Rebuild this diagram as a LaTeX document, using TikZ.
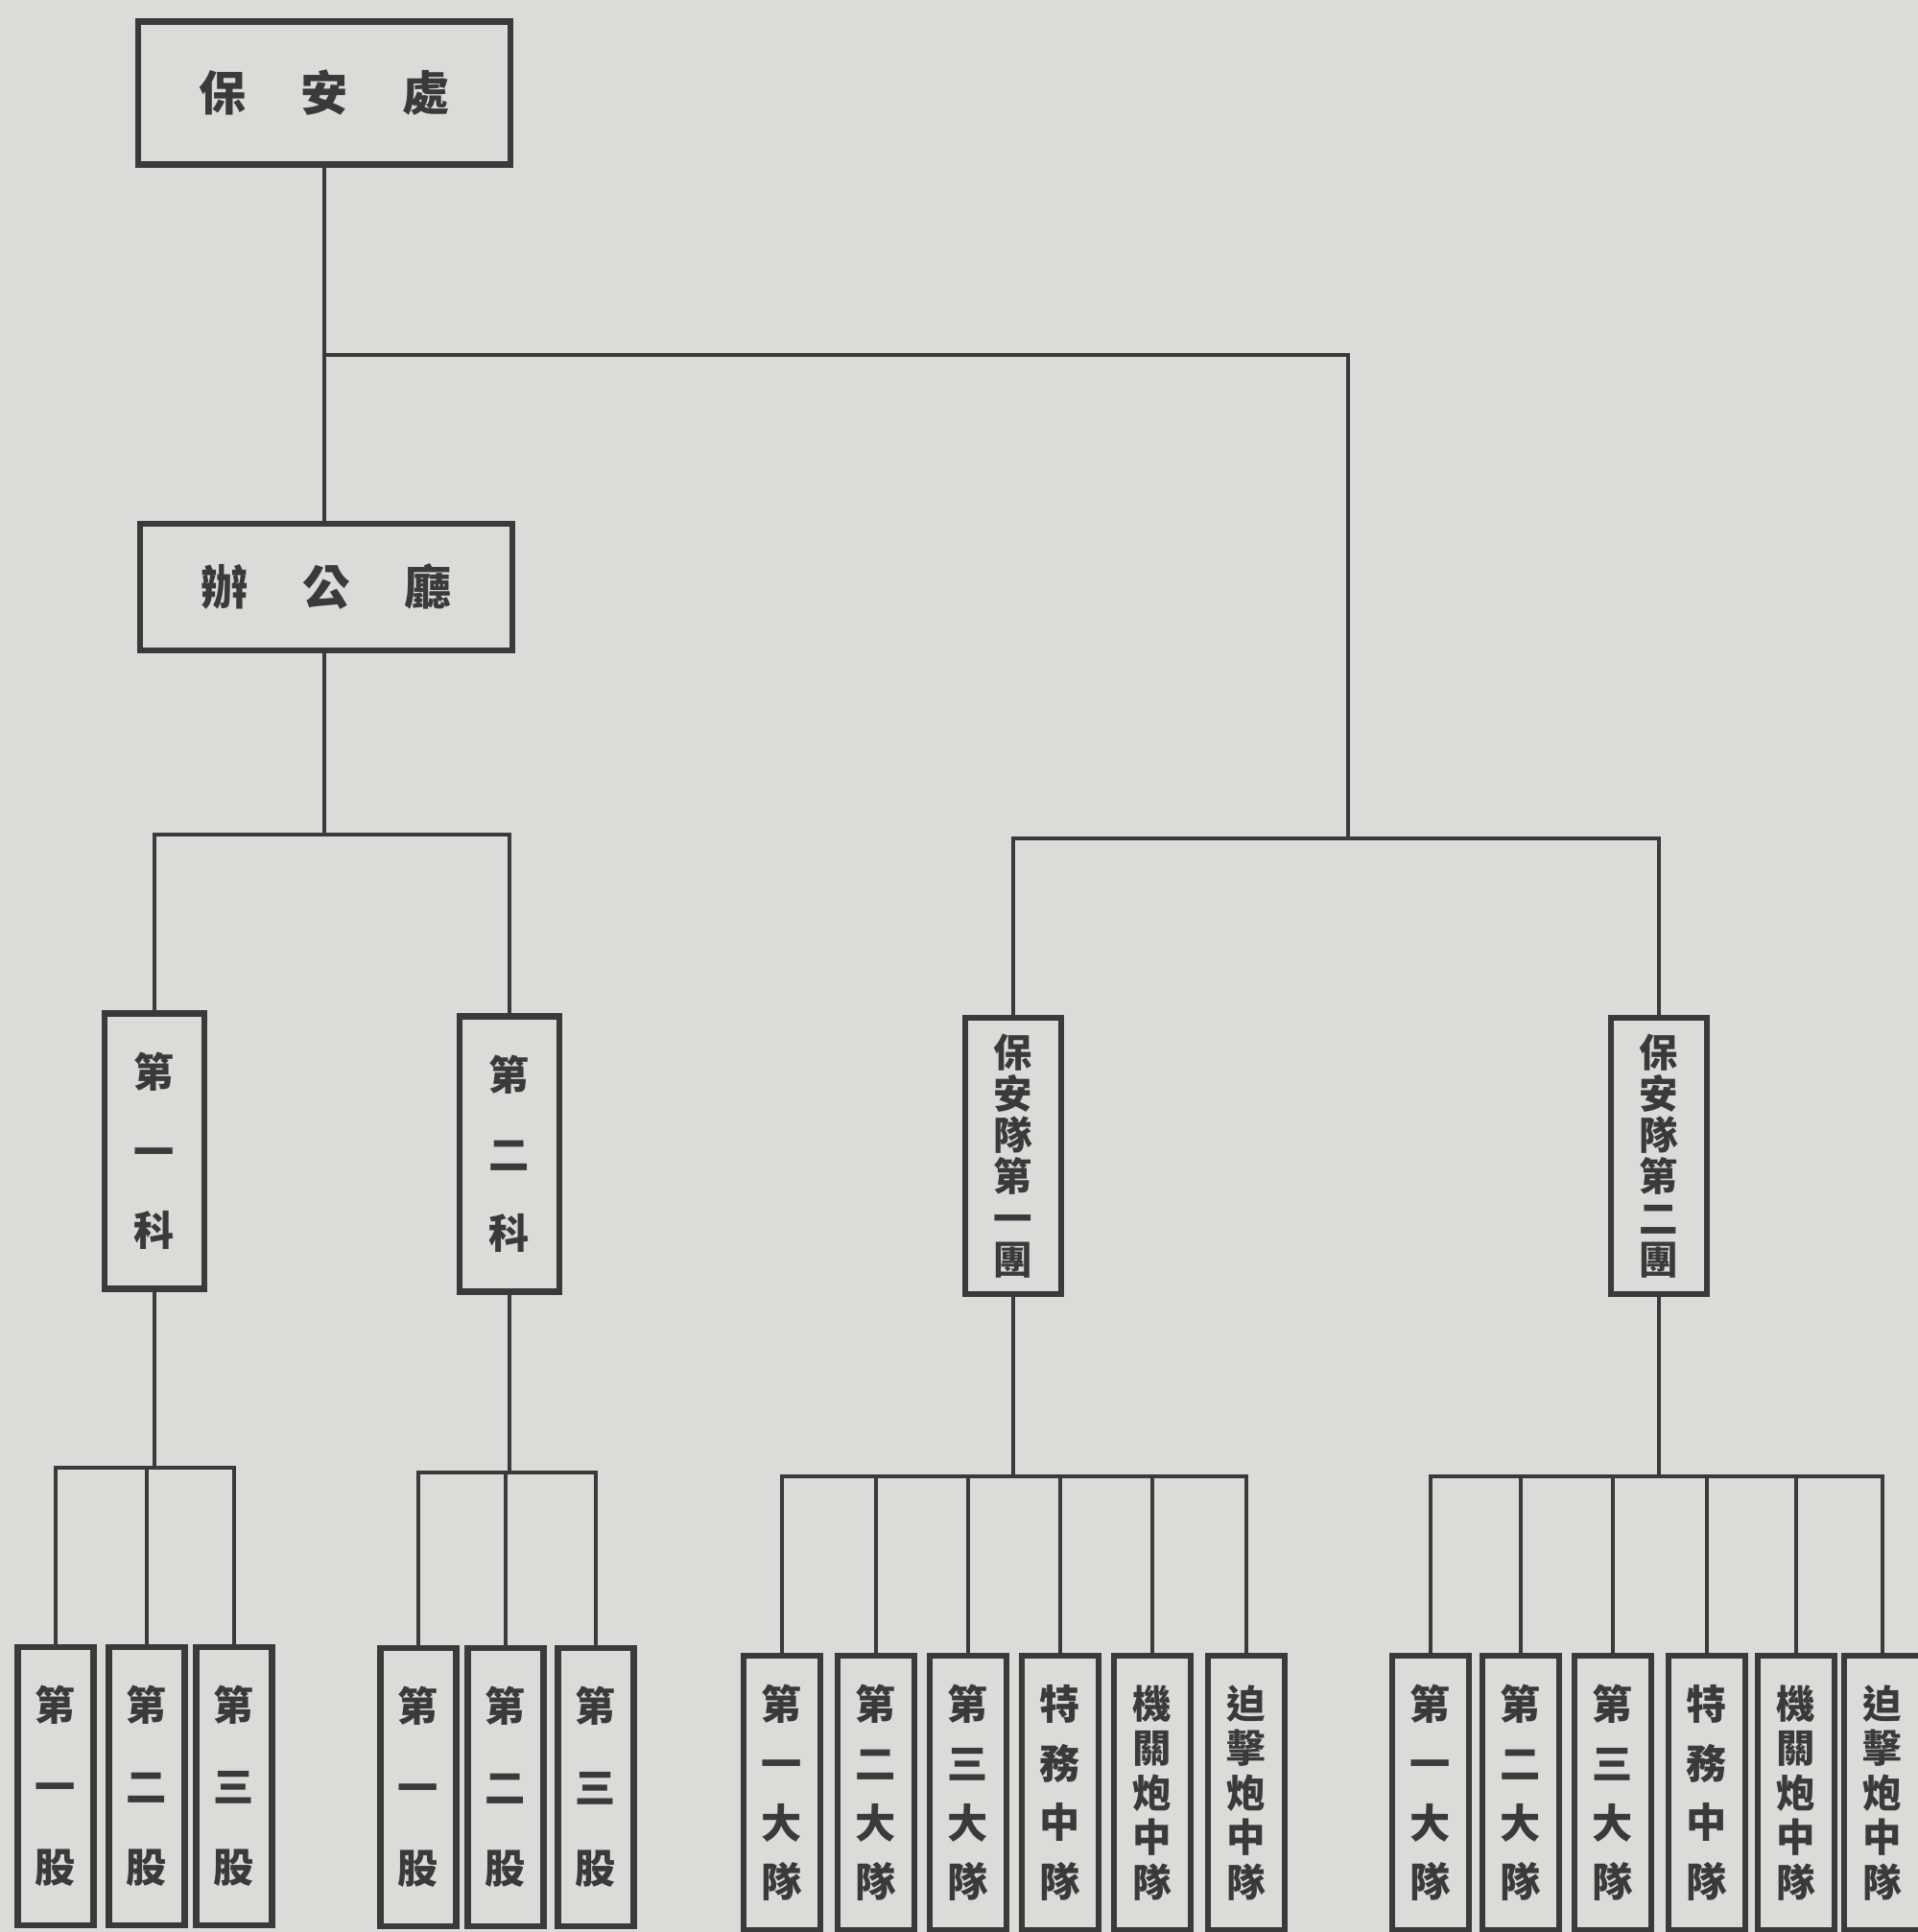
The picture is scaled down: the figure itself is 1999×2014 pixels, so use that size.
\documentclass[tikz,border=0pt]{standalone}
\usepackage{fontspec}
\newfontfamily\cjk{Noto Sans CJK TC}
\definecolor{chartpaper}{RGB}{219,219,215}
\definecolor{chartink}{RGB}{58,58,56}
\tikzset{
  chart line/.style={draw=chartink,line width=1.4pt},
  chart box/.style={draw=chartink,line width=1.8pt,fill=chartpaper,inner sep=0pt,align=center,text=chartink},
  chart head/.style={chart box,minimum width=3.88cm,font=\cjk\bfseries\fontsize{14}{14}\selectfont},
  chart section/.style={chart box,minimum width=1.04cm,minimum height=2.87cm,font=\cjk\bfseries\fontsize{12}{23.5}\selectfont},
  chart regiment/.style={chart box,minimum width=1.0cm,minimum height=2.88cm,font=\cjk\bfseries\fontsize{11.5}{12.3}\selectfont},
  chart unit/.style={chart box,minimum width=0.79cm,minimum height=2.9cm,font=\cjk\bfseries\fontsize{12}{24}\selectfont},
  chart company/.style={chart box,minimum width=0.8cm,minimum height=2.86cm,font=\cjk\bfseries\fontsize{12}{17.5}\selectfont},
  chart company long/.style={chart company,font=\cjk\bfseries\fontsize{11.5}{13.2}\selectfont}
}

\begin{document}
\begin{tikzpicture}[x=0.01cm,y=-0.01cm]
  \useasboundingbox (0,0) rectangle (1999,2014);
  \fill[chartpaper] (0,0) rectangle (1999,2014);

  \coordinate (branch) at (1405,370);
  \coordinate (ke bus) at (0,870);
  \coordinate (tuan bus) at (0,874);
  \coordinate (gu bus a) at (0,1530);
  \coordinate (gu bus b) at (0,1535);
  \coordinate (dui bus) at (0,1539);

  \node[chart head,minimum height=1.49cm] (bao) at (338,97) {保\hspace{1.15em}安\hspace{1.15em}處};
  \node[chart head,minimum height=1.32cm] (ban) at (340,612) {辦\hspace{1.15em}公\hspace{1.15em}廳};

  \node[chart section] (ke1) at (161,1200) {第\\一\\科};
  \node[chart section] (ke2) at (531,1203) {第\\二\\科};
  \node[chart regiment] (tuan1) at (1056,1205) {保\\安\\隊\\第\\一\\團};
  \node[chart regiment] (tuan2) at (1729,1205) {保\\安\\隊\\第\\二\\團};

  \node[chart unit] (gua1) at (58,1862) {第\\一\\股};
  \node[chart unit] (gua2) at (153,1862) {第\\二\\股};
  \node[chart unit] (gua3) at (244,1862) {第\\三\\股};
  \node[chart unit] (gub1) at (436,1863) {第\\一\\股};
  \node[chart unit] (gub2) at (527,1863) {第\\二\\股};
  \node[chart unit] (gub3) at (621,1863) {第\\三\\股};

  \node[chart company] (dui a1) at (815,1869) {第\\一\\大\\隊};
  \node[chart company] (dui a2) at (913,1869) {第\\二\\大\\隊};
  \node[chart company] (dui a3) at (1009,1869) {第\\三\\大\\隊};
  \node[chart company] (dui a4) at (1105,1869) {特\\務\\中\\隊};
  \node[chart company long] (dui a5) at (1201,1869) {機\\關\\炮\\中\\隊};
  \node[chart company long] (dui a6) at (1299,1869) {迫\\擊\\炮\\中\\隊};
  \node[chart company] (dui b1) at (1491,1869) {第\\一\\大\\隊};
  \node[chart company] (dui b2) at (1585,1869) {第\\二\\大\\隊};
  \node[chart company] (dui b3) at (1681,1869) {第\\三\\大\\隊};
  \node[chart company] (dui b4) at (1779,1869) {特\\務\\中\\隊};
  \node[chart company long] (dui b5) at (1872,1869) {機\\關\\炮\\中\\隊};
  \node[chart company long] (dui b6) at (1962,1869) {迫\\擊\\炮\\中\\隊};

  \draw[chart line] (bao.south) -- (ban.north -| bao.south);
  \draw[chart line] (bao.south |- branch) -- (branch) -- (branch |- tuan bus);
  \draw[chart line] (tuan1.north) -- (tuan1.north |- tuan bus) -- (tuan2.north |- tuan bus) -- (tuan2.north);

  \draw[chart line] (ban.south -| bao.south) -- (bao.south |- ke bus);
  \draw[chart line] (ke1.north) -- (ke1.north |- ke bus) -- (ke2.north |- ke bus) -- (ke2.north);

  \draw[chart line] (ke1.south) -- (ke1.south |- gu bus a);
  \draw[chart line] (gua1.north) -- (gua1.north |- gu bus a) -- (gua3.north |- gu bus a) -- (gua3.north);
  \draw[chart line] (gua2.north) -- (gua2.north |- gu bus a);
  \draw[chart line] (ke2.south) -- (ke2.south |- gu bus b);
  \draw[chart line] (gub1.north) -- (gub1.north |- gu bus b) -- (gub3.north |- gu bus b) -- (gub3.north);
  \draw[chart line] (gub2.north) -- (gub2.north |- gu bus b);

  \draw[chart line] (tuan1.south) -- (tuan1.south |- dui bus);
  \draw[chart line] (dui a1.north) -- (dui a1.north |- dui bus) -- (dui a6.north |- dui bus) -- (dui a6.north);
  \foreach \k in {2,...,5}
    \draw[chart line] (dui a\k.north) -- (dui a\k.north |- dui bus);
  \draw[chart line] (tuan2.south) -- (tuan2.south |- dui bus);
  \draw[chart line] (dui b1.north) -- (dui b1.north |- dui bus) -- (dui b6.north |- dui bus) -- (dui b6.north);
  \foreach \k in {2,...,5}
    \draw[chart line] (dui b\k.north) -- (dui b\k.north |- dui bus);
\end{tikzpicture}
\end{document}
